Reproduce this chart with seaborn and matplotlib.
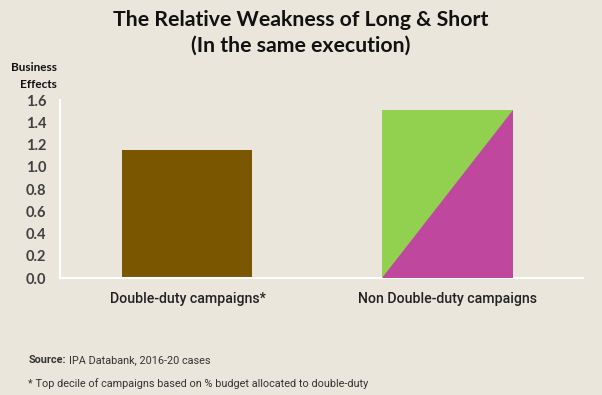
import pandas as pd
import matplotlib.pyplot as plt
import seaborn as sns
from matplotlib.patches import Polygon

# -----------------------------
# Data
# -----------------------------
categories = ["Double-duty campaigns*", "Non Double-duty campaigns"]
effects = [1.15, 1.51]
y_ticks = [0.0, 0.2, 0.4, 0.6, 0.8, 1.0, 1.2, 1.4, 1.6]

BG = "#EAE6DC"
BROWN = "#7A5600"
GREEN = "#92D050"
MAGENTA = "#C0479E"
ROBOTO = ["Roboto", "DejaVu Sans"]

sns.set_theme(style="white")
plt.rcParams["font.family"] = ["Lato", "DejaVu Sans"]

df = pd.DataFrame({"campaign": categories, "effect": effects})

fig = plt.figure(figsize=(6.02, 3.95), dpi=100, facecolor=BG)
ax = fig.add_axes([0.0997, 0.2962, 0.8683, 0.4506])
ax.set_facecolor(BG)

sns.barplot(data=df, x="campaign", y="effect", hue="campaign",
            palette=[BROWN, GREEN], width=0.5, saturation=1,
            linewidth=0, legend=False, ax=ax)

# split the second bar diagonally: magenta lower-right triangle
bar = ax.patches[1]
x0, w, h = bar.get_x(), bar.get_width(), bar.get_height()
ax.add_patch(Polygon([(x0, 0), (x0 + w, 0), (x0 + w, h)], closed=True,
                     facecolor=MAGENTA, edgecolor="none", zorder=3))

ax.set_xlim(-0.49, 1.52)
ax.set_ylim(0, 1.6)
ax.set_yticks(y_ticks)
ax.set_yticklabels([f"{t:.1f}" for t in y_ticks], fontsize=10.5,
                   fontweight="bold", color="#404040")
ax.set_xticks([0, 1])
ax.set_xticklabels(categories, fontsize=10.2, color="#222222",
                   family=ROBOTO, fontweight="medium")
ax.tick_params(axis="both", length=0)
ax.tick_params(axis="y", pad=10)
ax.tick_params(axis="x", pad=10)
ax.set_xlabel("")
ax.set_ylabel("")

for side in ["top", "right"]:
    ax.spines[side].set_visible(False)
for side in ["left", "bottom"]:
    ax.spines[side].set_color("white")
    ax.spines[side].set_linewidth(1.5)

# -----------------------------
# Text
# -----------------------------
fig.text(0.5, 0.95, "The Relative Weakness of Long & Short", ha="center",
         va="center", fontsize=15.3, fontweight="bold", color="#111111")
fig.text(0.5, 0.884, "(In the same execution)", ha="center",
         va="center", fontsize=15.3, fontweight="bold", color="#111111")
fig.text(0.095, 0.828, "Business", ha="right", va="center",
         fontsize=8.5, fontweight="bold", color="#111111")
fig.text(0.095, 0.787, "Effects", ha="right", va="center",
         fontsize=8.5, fontweight="bold", color="#111111")

src = fig.text(0.047, 0.089, "Source:", ha="left", va="center", fontsize=7.8,
               fontweight="bold", color="#333333", family=ROBOTO)
fig.canvas.draw()
bb = src.get_window_extent().transformed(fig.transFigure.inverted())
fig.text(bb.x1 + 0.006, 0.089, "IPA Databank, 2016-20 cases", ha="left",
         va="center", fontsize=7.8, color="#333333", family=ROBOTO)
fig.text(0.047, 0.03, "* Top decile of campaigns based on % budget allocated to double-duty",
         ha="left", va="center", fontsize=7.8, color="#333333", family=ROBOTO)

fig.savefig("out.png", dpi=100, facecolor=BG)
